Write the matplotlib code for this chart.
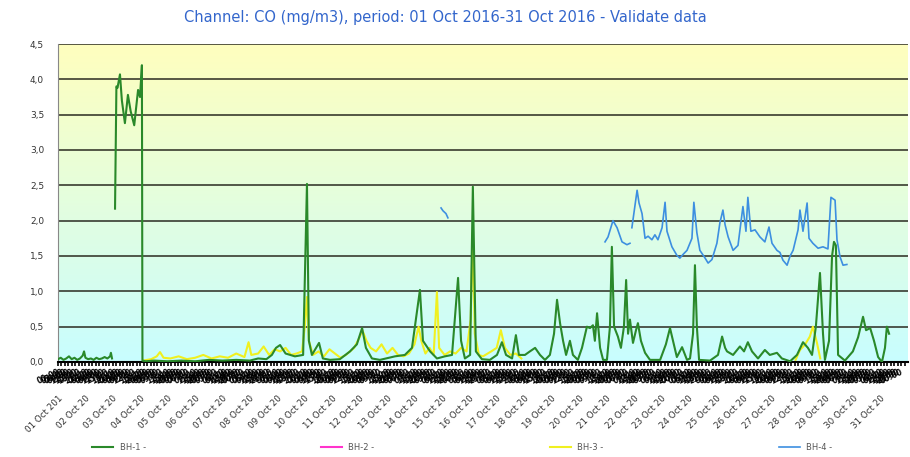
import numpy as np
import matplotlib
matplotlib.use("Agg")
import matplotlib.pyplot as plt
from matplotlib.ticker import FixedLocator, FixedFormatter

nan = np.nan

# ---- data (x in days since 01 Oct 2016 00:00, y in mg/m3) ----
bh1_x = [0.0, 0.1, 0.2, 0.3, 0.4, 0.5, 0.6, 0.7, 0.8, 0.9, 0.95, 1.0, 1.1, 1.2, 1.3, 1.4, 1.5, 1.6,
         1.7, 1.8, 1.9, 1.93, 1.97, 2.02,
         2.08, 2.13, 2.17, 2.26, 2.33, 2.44, 2.5, 2.55, 2.65, 2.78, 2.85, 2.92, 2.99, 3.06, 3.08,
         3.2, 3.5, 4.0, 4.5, 5.0, 5.5, 6.0, 6.5, 7.0, 7.3, 7.6, 7.8, 7.95, 8.1, 8.3, 8.64, 8.94,
         9.08, 9.15, 9.26, 9.52, 9.66, 9.92, 10.28, 10.65, 10.9, 11.09, 11.23, 11.45, 11.74, 12.29,
         12.65, 12.91, 13.2, 13.31, 13.57, 13.82, 14.11, 14.37, 14.59, 14.7, 14.84, 15.03, 15.13,
         15.24, 15.46, 15.75, 16.01, 16.19, 16.34, 16.56, 16.7, 16.81, 17.03, 17.21, 17.4, 17.58,
         17.76, 17.94, 18.09, 18.2, 18.31, 18.42, 18.53, 18.67, 18.78, 18.96, 19.11, 19.29, 19.4,
         19.51, 19.58, 19.66, 19.77, 19.88, 20.02, 20.13, 20.2, 20.28, 20.42, 20.53, 20.64, 20.72,
         20.79, 20.86, 20.97, 21.08, 21.15, 21.26, 21.41, 21.59, 21.96, 22.17, 22.32, 22.46, 22.57,
         22.76, 22.94, 23.05, 23.16, 23.23, 23.3, 23.38, 23.78, 24.07, 24.22, 24.33, 24.4, 24.62,
         24.87, 25.02, 25.16, 25.31, 25.53, 25.78, 25.96, 26.22, 26.4, 26.7, 26.95, 27.17, 27.35,
         27.5, 27.64, 27.79, 27.9, 27.97, 28.12, 28.23, 28.3, 28.37, 28.45, 28.7, 28.99, 29.18,
         29.36, 29.47, 29.62, 29.76, 29.91, 30.05, 30.16, 30.23, 30.31]
bh1_y = [0.04, 0.06, 0.03, 0.05, 0.08, 0.04, 0.06, 0.03, 0.05, 0.09, 0.15, 0.06, 0.04, 0.05, 0.03,
         0.06, 0.04, 0.05, 0.07, 0.05, 0.08, 0.13, 0.05, nan,
         2.17, 3.9, 3.88, 4.07, 3.7, 3.38, 3.6, 3.78, 3.55, 3.35, 3.6, 3.85, 3.75, 4.2, 0.02,
         0.01, 0.02, 0.01, 0.02, 0.01, 0.03, 0.02, 0.03, 0.02, 0.05, 0.04, 0.1, 0.2, 0.24, 0.12,
         0.08, 0.1, 2.52, 0.3, 0.1, 0.27, 0.05, 0.03, 0.04, 0.15, 0.25, 0.48, 0.2, 0.05, 0.03,
         0.08, 0.1, 0.2, 1.02, 0.3, 0.15, 0.05, 0.08, 0.1, 1.19, 0.3, 0.05, 0.1, 2.48, 0.15, 0.04,
         0.03, 0.1, 0.28, 0.1, 0.05, 0.38, 0.1, 0.1, 0.15, 0.2, 0.1, 0.03, 0.1, 0.4, 0.88, 0.55,
         0.3, 0.1, 0.3, 0.1, 0.03, 0.2, 0.5, 0.48, 0.52, 0.3, 0.69, 0.2, 0.03, 0.03, 0.5, 1.63,
         0.5, 0.36, 0.2, 0.5, 1.16, 0.4, 0.6, 0.27, 0.45, 0.55, 0.3, 0.13, 0.03, 0.03, 0.25, 0.48,
         0.25, 0.07, 0.21, 0.03, 0.05, 0.4, 1.37, 0.5, 0.03, 0.02, 0.1, 0.36, 0.2, 0.15, 0.1, 0.22,
         0.15, 0.28, 0.15, 0.05, 0.17, 0.1, 0.13, 0.05, 0.01, 0.1, 0.28, 0.2, 0.1, 0.5, 1.26, 0.4,
         0.03, 0.3, 1.5, 1.7, 1.65, 0.1, 0.02, 0.15, 0.35, 0.64, 0.45, 0.48, 0.3, 0.07, 0.0, 0.2,
         0.5, 0.4]

bh3_x = [3.1, 3.4, 3.6, 3.72, 3.85, 4.1, 4.4, 4.7, 5.0, 5.3, 5.6, 5.9, 6.2, 6.5, 6.8, 6.95, 7.05,
         7.3, 7.5, 7.7, 7.9, 8.1, 8.3, 8.5, 8.7, 8.9, 9.0, 9.08, 9.15, 9.3, 9.5, 9.7, 9.9, 10.1,
         10.3, 10.5, 10.8, 11.0, 11.1, 11.25, 11.4, 11.6, 11.8, 12.0, 12.2, 12.4, 12.6, 12.8, 13.0,
         13.15, 13.25, 13.4, 13.55, 13.7, 13.82, 13.9, 14.1, 14.3, 14.5, 14.7, 14.9, 15.05, 15.13,
         15.2, 15.35, 15.5, 15.8, 16.0, 16.15, 16.3, 16.5, 16.7, 16.9, 17.0,
         26.9, 27.06, 27.25, 27.42, 27.53, 27.68, 27.8]
bh3_y = [0.02, 0.04, 0.08, 0.14, 0.06, 0.05, 0.08, 0.04, 0.06, 0.1, 0.05, 0.08, 0.06, 0.12, 0.07,
         0.28, 0.1, 0.12, 0.22, 0.1, 0.18, 0.15, 0.2, 0.1, 0.12, 0.15, 0.5, 0.92, 0.3, 0.1, 0.15,
         0.08, 0.18, 0.12, 0.06, 0.1, 0.2, 0.35, 0.45, 0.3, 0.2, 0.15, 0.25, 0.12, 0.2, 0.1, 0.08,
         0.12, 0.25, 0.5, 0.3, 0.12, 0.2, 0.1, 0.99, 0.2, 0.1, 0.15, 0.12, 0.2, 0.15, 0.6, 1.83,
         0.4, 0.1, 0.08, 0.15, 0.2, 0.45, 0.2, 0.1, 0.12, 0.05, nan,
         0.03, 0.17, 0.25, 0.36, 0.5, 0.27, 0.05]

bh4_x = [13.97, 14.04, 14.15, 14.22, 14.3,
         19.95, 20.06, 20.24, 20.39, 20.57, 20.75, 20.86, 20.9, 20.93, 21.12, 21.19, 21.3, 21.41,
         21.52, 21.66, 21.77, 21.88, 22.03, 22.14, 22.21, 22.39, 22.57, 22.68, 22.79, 22.94, 23.12,
         23.19, 23.3, 23.41, 23.6, 23.71, 23.85, 24.03, 24.14, 24.25, 24.33, 24.44, 24.62, 24.8,
         24.98, 25.09, 25.16, 25.27, 25.42, 25.6, 25.78, 25.93, 26.04, 26.22, 26.33, 26.44, 26.59,
         26.7, 26.81, 26.99, 27.06, 27.17, 27.32, 27.39, 27.53, 27.72, 27.9, 28.08, 28.19, 28.34,
         28.41, 28.52, 28.63, 28.77]
bh4_y = [2.18, 2.14, 2.1, 2.04, nan,
         1.70, 1.77, 2.0, 1.9, 1.7, 1.66, 1.68, nan, 1.9, 2.43, 2.25, 2.1, 1.75, 1.78, 1.73, 1.8,
         1.73, 1.9, 2.26, 1.85, 1.63, 1.51, 1.47, 1.52, 1.58, 1.75, 2.26, 1.83, 1.58, 1.47, 1.4,
         1.45, 1.68, 1.97, 2.15, 1.94, 1.77, 1.58, 1.65, 2.2, 1.85, 2.33, 1.85, 1.87, 1.77, 1.7,
         1.91, 1.68, 1.58, 1.55, 1.44, 1.37, 1.5, 1.58, 1.87, 2.15, 1.85, 2.25, 1.75, 1.68, 1.61,
         1.63, 1.6, 2.33, 2.29, 1.73, 1.49, 1.37, 1.38]

bh2_x = []
bh2_y = []

day_labels = ["01 Oct 201"] + ["%02d Oct 20" % d for d in range(2, 32)]
y_ticks = [0.0, 0.5, 1.0, 1.5, 2.0, 2.5, 3.0, 3.5, 4.0, 4.5]
y_labels = ["0,0", "0,5", "1,0", "1,5", "2,0", "2,5", "3,0", "3,5", "4,0", "4,5"]
series_names = ["BH-1 -", "BH-2 -", "BH-3 -", "BH-4 -"]
title = "Channel: CO (mg/m3), period: 01 Oct 2016-31 Oct 2016 - Validate data"

# ---- figure ----
fig = plt.figure(figsize=(9.1, 4.57), dpi=100)
ax = fig.add_axes([58 / 910, (457 - 362) / 457, 850 / 910, 318 / 457])
ax.set_xlim(0, 31)
ax.set_ylim(0, 4.5)

# background gradient (yellow top -> cyan bottom)
top = np.array([255, 255, 190]) / 255
bot = np.array([200, 253, 255]) / 255
t = np.linspace(0, 1, 256)[:, None]
grad = (top[None, :] * (1 - t) + bot[None, :] * t)[:, None, :]
ax.imshow(grad, extent=[0, 31, 0, 4.5], aspect="auto", zorder=0, interpolation="bilinear")

for yv in y_ticks[1:]:
    ax.axhline(yv, color="#2a2a20", lw=1.1, zorder=1)

l1, = ax.plot(bh1_x, bh1_y, color="#2a892a", lw=1.5, zorder=3)
l2, = ax.plot(bh2_x, bh2_y, color="#ff33cc", lw=1.5, zorder=3)
l3, = ax.plot(bh3_x, bh3_y, color="#f0f020", lw=1.5, zorder=2)
l4, = ax.plot(bh4_x, bh4_y, color="#3d8fe0", lw=1.2, zorder=4)

ax.set_yticks(y_ticks)
ax.set_yticklabels(y_labels, fontsize=6.5, color="#333333")
ax.tick_params(axis="y", length=0, pad=10)

# x ticks: days (major) + hour labels (minor blob row)
ax.xaxis.set_major_locator(FixedLocator(list(range(31))))
ax.xaxis.set_major_formatter(FixedFormatter(day_labels))
hours = [d + h / 24 for d in range(31) for h in range(0, 24, 3)]
ax.xaxis.set_minor_locator(FixedLocator(hours))
ax.xaxis.set_minor_formatter(FixedFormatter(["%02d:00" % (int(round((h % 1) * 24))) for h in hours]))
ax.tick_params(axis="x", which="major", length=3, width=1.2, color="black", pad=20,
               labelsize=6.3, labelcolor="#333333", labelrotation=45)
ax.tick_params(axis="x", which="minor", length=3, width=1.2, color="black", pad=1,
               labelsize=5.5, labelcolor="black", labelrotation=25)
for lab in ax.get_xticklabels(which="major"):
    lab.set_ha("right")
    lab.set_rotation_mode("anchor")
for lab in ax.get_xticklabels(which="minor"):
    lab.set_ha("right")
    lab.set_fontweight("bold")

for s in ["top", "right"]:
    ax.spines[s].set_visible(False)
ax.spines["left"].set_color("#888888")
ax.spines["bottom"].set_color("black")
ax.spines["bottom"].set_linewidth(1.5)

fig.text(0.489, 0.962, title, ha="center", va="center", fontsize=10.5, color="#3366cc")

fig.legend([l1, l2, l3, l4], series_names, loc="center", ncol=4, mode="expand",
           bbox_to_anchor=(0.093, 0.005, 0.83, 0.03), frameon=False, fontsize=6,
           handlelength=2.5, labelcolor="#555555")

fig.savefig("out.png", dpi=100)
